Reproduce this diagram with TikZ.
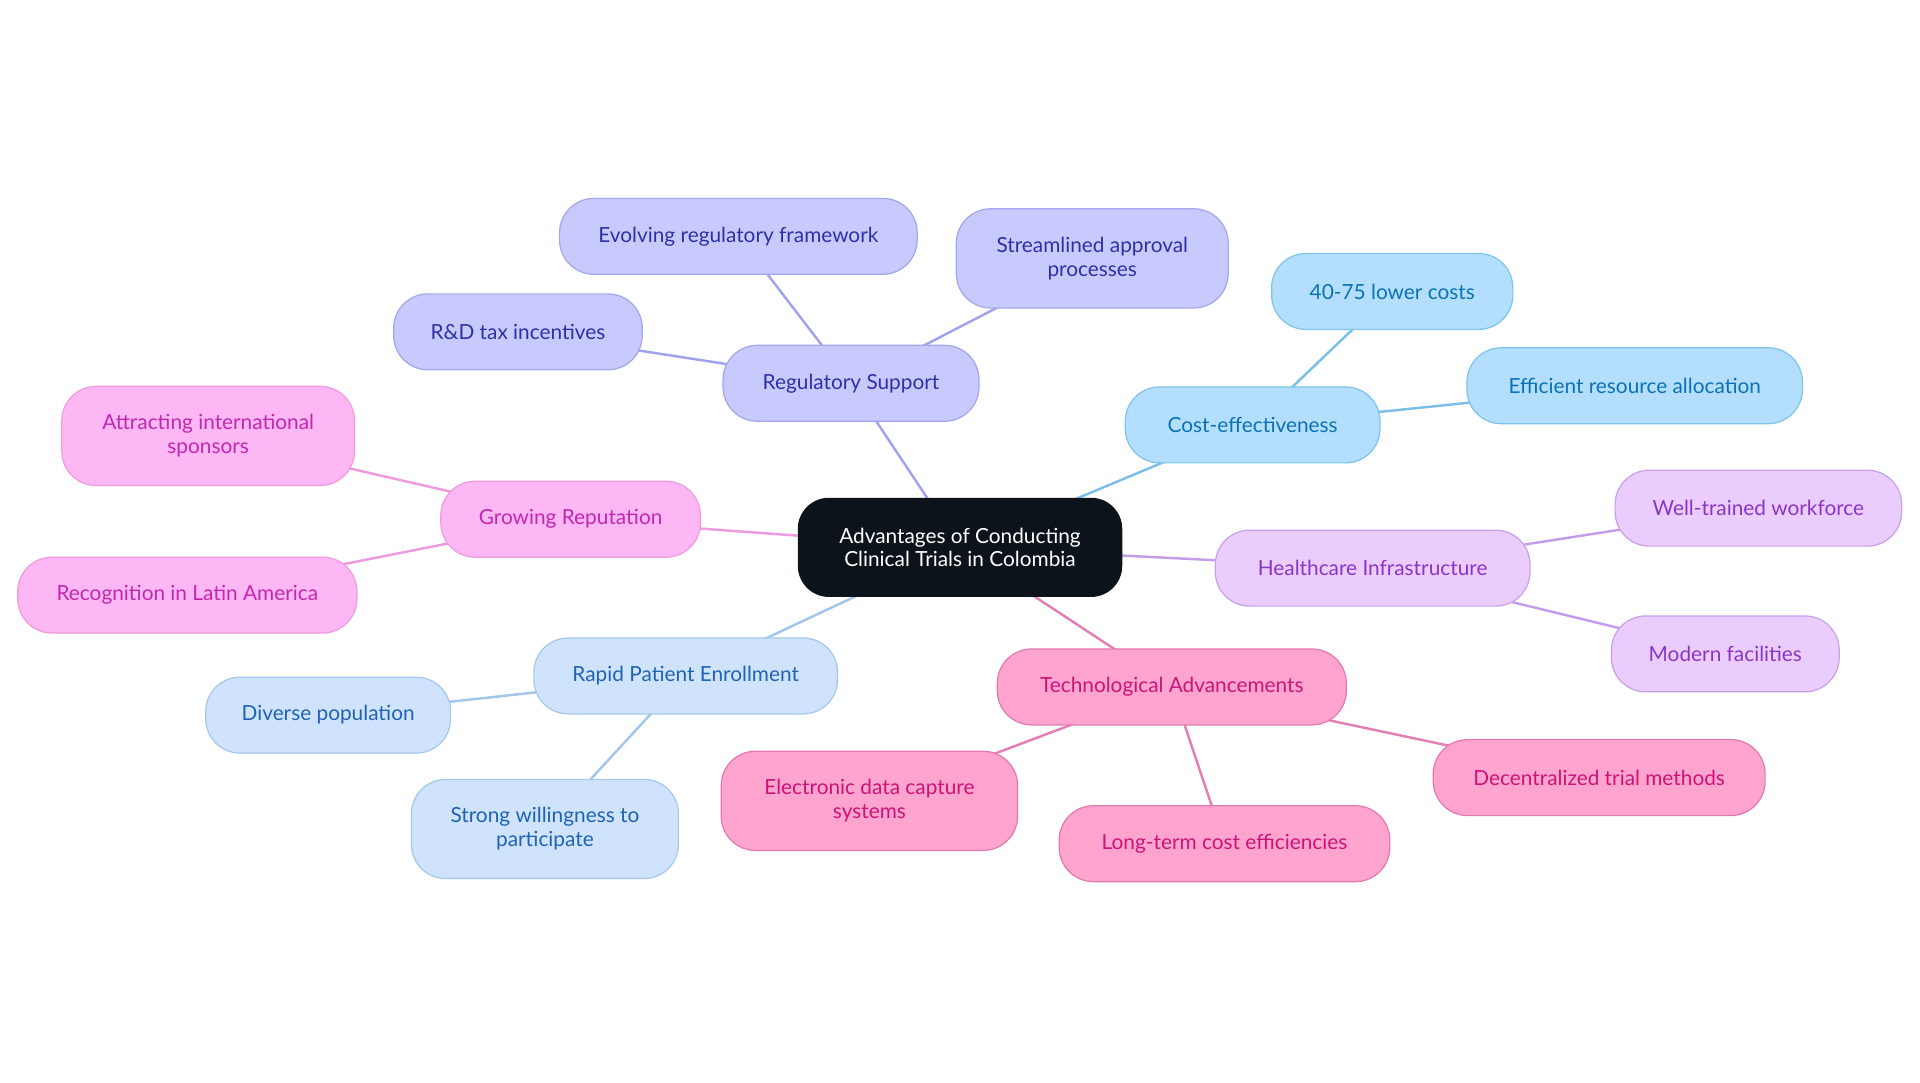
\documentclass[tikz,border=0pt]{standalone}
\usepackage{fontspec}
\setmainfont{Lato}
\usetikzlibrary{backgrounds}
\definecolor{cfill}{HTML}{0D131A}
\definecolor{rfill}{HTML}{C8CAFD}\definecolor{rdraw}{HTML}{A3A6F0}\definecolor{rtext}{HTML}{2E30A8}\definecolor{rline}{HTML}{A0A3EC}
\definecolor{kfill}{HTML}{B3DEFD}\definecolor{kdraw}{HTML}{7EC4EC}\definecolor{ktext}{HTML}{0B72B5}\definecolor{kline}{HTML}{7BBFE8}
\definecolor{hfill}{HTML}{EACCFD}\definecolor{hdraw}{HTML}{C9A0EC}\definecolor{htext}{HTML}{8A35C8}\definecolor{hline}{HTML}{C39DEB}
\definecolor{tfill}{HTML}{FFA4CE}\definecolor{tdraw}{HTML}{E27AB2}\definecolor{ttext}{HTML}{CC1478}\definecolor{tline}{HTML}{E37FB5}
\definecolor{pfill}{HTML}{CFE3FD}\definecolor{pdraw}{HTML}{A4C8EE}\definecolor{ptext}{HTML}{1F63B5}\definecolor{pline}{HTML}{A3C5EC}
\definecolor{gfill}{HTML}{FDB7F4}\definecolor{gdraw}{HTML}{EE9BE0}\definecolor{gtext}{HTML}{C327B0}\definecolor{gline}{HTML}{EE9ADF}
\tikzset{
  box/.style={draw, line width=1pt, rounded corners=28pt, minimum height=62pt, inner sep=0pt, align=center,
    font=\fontsize{17}{19.5}\selectfont},
  tall/.style={minimum height=81pt},
  central/.style={box, fill=cfill, draw=cfill, text=white, rounded corners=25pt, minimum height=80pt},
  reg/.style={box, fill=rfill, draw=rdraw, text=rtext},
  cost/.style={box, fill=kfill, draw=kdraw, text=ktext},
  hea/.style={box, fill=hfill, draw=hdraw, text=htext},
  tec/.style={box, fill=tfill, draw=tdraw, text=ttext},
  rap/.style={box, fill=pfill, draw=pdraw, text=ptext},
  gro/.style={box, fill=gfill, draw=gdraw, text=gtext},
  link/.style={line width=2pt},
}
\begin{document}
\begin{tikzpicture}[x=1pt,y=-1pt]
\useasboundingbox (0,0) rectangle (1568,884.4);
\node[central, minimum width=264pt] (c) at (784,447) {Advantages of Conducting\\Clinical Trials in Colombia};

\node[reg, minimum width=209pt] (r) at (695,313) {Regulatory Support};
\node[reg, minimum width=292pt] (r1) at (603,193) {Evolving regulatory framework};
\node[reg, tall, minimum width=222pt] (r2) at (892,211) {Streamlined approval\\processes};
\node[reg, minimum width=203pt] (r3) at (423,271) {R\&D tax incentives};

\node[cost, minimum width=208pt] (k) at (1023,347) {Cost-effectiveness};
\node[cost, minimum width=197pt] (k1) at (1137,238) {40-75 lower costs};
\node[cost, minimum width=274pt] (k2) at (1335,315) {Efficient resource allocation};

\node[hea, minimum width=257pt] (h) at (1121,464) {Healthcare Infrastructure};
\node[hea, minimum width=234pt] (h1) at (1436,415) {Well-trained workforce};
\node[hea, minimum width=186pt] (h2) at (1409,534) {Modern facilities};

\node[tec, minimum width=285pt] (t) at (957,561) {Technological Advancements};
\node[tec, tall, minimum width=242pt] (t1) at (710,654) {Electronic data capture\\systems};
\node[tec, minimum width=270pt] (t2) at (1000,689) {Long-term cost efficiencies};
\node[tec, minimum width=271pt] (t3) at (1306,635) {Decentralized trial methods};

\node[rap, minimum width=248pt] (p) at (560,552) {Rapid Patient Enrollment};
\node[rap, minimum width=200pt] (p1) at (268,584) {Diverse population};
\node[rap, tall, minimum width=218pt] (p2) at (445,677) {Strong willingness to\\participate};

\node[gro, minimum width=212pt] (g) at (466,424) {Growing Reputation};
\node[gro, tall, minimum width=239pt] (g1) at (170,356) {Attracting international\\sponsors};
\node[gro, minimum width=277pt] (g2) at (153,486) {Recognition in Latin America};

\begin{pgfonlayer}{background}
\draw[link, rline] (c.center) -- (r.center);
\draw[link, rline] (r.center) -- (r1.center);
\draw[link, rline] (r.center) -- (r2.center);
\draw[link, rline] (r.center) -- (r3.center);
\draw[link, kline] (c.center) -- (k.center);
\draw[link, kline] (k.center) -- (k1.center);
\draw[link, kline] (k.center) -- (k2.center);
\draw[link, hline] (c.center) -- (h.center);
\draw[link, hline] (h.center) -- (h1.center);
\draw[link, hline] (h.center) -- (h2.center);
\draw[link, tline] (c.center) -- (t.center);
\draw[link, tline] (t.center) -- (t1.center);
\draw[link, tline] (t.center) -- (t2.center);
\draw[link, tline] (t.center) -- (t3.center);
\draw[link, pline] (c.center) -- (p.center);
\draw[link, pline] (p.center) -- (p1.center);
\draw[link, pline] (p.center) -- (p2.center);
\draw[link, gline] (c.center) -- (g.center);
\draw[link, gline] (g.center) -- (g1.center);
\draw[link, gline] (g.center) -- (g2.center);
\end{pgfonlayer}
\end{tikzpicture}
\end{document}
